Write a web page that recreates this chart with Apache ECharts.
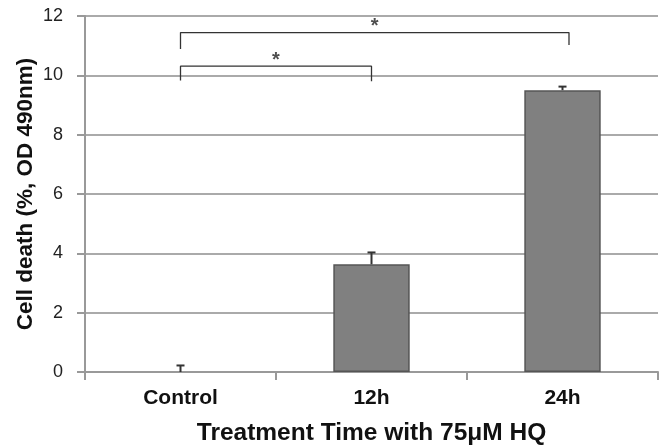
<!DOCTYPE html>
<html><head><meta charset="utf-8">
<script src="https://cdn.jsdelivr.net/npm/echarts@6/dist/echarts.min.js"></script>
<style>html,body{margin:0;padding:0;background:#fff}#c{width:663px;height:446px}</style>
</head><body><div id="c"></div>
<script>
const categories = ['Control', '12h', '24h'];
const values = [0, 3.63, 9.5];
const errors = [0.22, 0.4, 0.12];
const yTicks = [0, 2, 4, 6, 8, 10, 12];
// significance brackets: [xStart, xEnd, yTop, yLegLeft, yLegRight, label]
const brackets = [
  [0.5, 2.534, 11.44, 10.89, 11.02, '*'],
  [0.5, 1.5, 10.31, 9.83, 9.8, '*']
];

const chart = echarts.init(document.getElementById('c'));
const font = 'Liberation Sans';
const bracketSeries = brackets.map(b => ({
  type: 'line', xAxisIndex: 1, yAxisIndex: 0, symbol: 'none', silent: true,
  lineStyle: { color: '#333', width: 1.3 },
  data: [[b[0], b[3]], [b[0], b[2]], [b[1], b[2]], [b[1], b[4]]],
  z: 5
}));
const starSeries = {
  type: 'scatter', xAxisIndex: 1, yAxisIndex: 0, symbolSize: 0, silent: true,
  data: brackets.map(b => [(b[0] + b[1]) / 2, b[2]]),
  label: { show: true, position: 'inside', offset: [0, -6], formatter: (p) => brackets[p.dataIndex][5],
           fontFamily: font, fontWeight: 'bold', fontSize: 20, color: '#222' }
};
chart.setOption({
  animation: false,
  grid: { left: 85, right: 5, top: 16, bottom: 74, containLabel: false, outerBoundsMode: 'none' },
  xAxis: [{
    type: 'category', data: categories,
    axisLine: { lineStyle: { color: '#999', width: 2 } },
    axisTick: { show: true, length: 8, lineStyle: { color: '#999', width: 2 } },
    axisLabel: { fontFamily: font, fontWeight: 'bold', fontSize: 21, color: '#111', margin: 16 },
    name: 'Treatment Time with 75\u03bcM HQ', nameLocation: 'middle', nameGap: 49, nameMoveOverlap: false,
    nameTextStyle: { fontFamily: font, fontWeight: 'bold', fontSize: 24.5, color: '#111' }
  }, {
    type: 'value', min: 0, max: 3, show: false
  }],
  yAxis: {
    type: 'value', min: 0, max: 12, interval: 2,
    axisLine: { show: true, lineStyle: { color: '#999', width: 2 } },
    axisTick: { show: true, length: 8, lineStyle: { color: '#999', width: 2 } },
    splitLine: { lineStyle: { color: '#aaa', width: 2 } },
    axisLabel: { fontFamily: font, fontSize: 18, color: '#222', margin: 22,
                 formatter: v => yTicks.includes(v) ? String(v) : '' },
    name: 'Cell death (%, OD 490nm)', nameLocation: 'middle', nameGap: 48, nameRotate: 90, nameMoveOverlap: false,
    nameTextStyle: { fontFamily: font, fontWeight: 'bold', fontSize: 22.5, color: '#111' }
  },
  series: [{
    type: 'bar', barWidth: '40%',
    data: values.map(v => v > 0 ? v : { value: v, itemStyle: { borderWidth: 0 } }),
    itemStyle: { color: '#808080', borderColor: '#555', borderWidth: 1.5 },
    z: 2
  }, {
    type: 'custom', z: 4,
    data: values.map((v, i) => [i, v, v + errors[i]]),
    renderItem: (params, api) => {
      const base = api.coord([api.value(0), api.value(1)]);
      const top = api.coord([api.value(0), api.value(2)]);
      const hw = 4;
      return { type: 'group', children: [
        { type: 'line', shape: { x1: base[0], y1: base[1], x2: top[0], y2: top[1] }, style: { stroke: '#333', lineWidth: 2 } },
        { type: 'line', shape: { x1: top[0] - hw, y1: top[1], x2: top[0] + hw, y2: top[1] }, style: { stroke: '#333', lineWidth: 2 } }
      ]};
    }
  }, ...bracketSeries, starSeries]
});
</script></body></html>
